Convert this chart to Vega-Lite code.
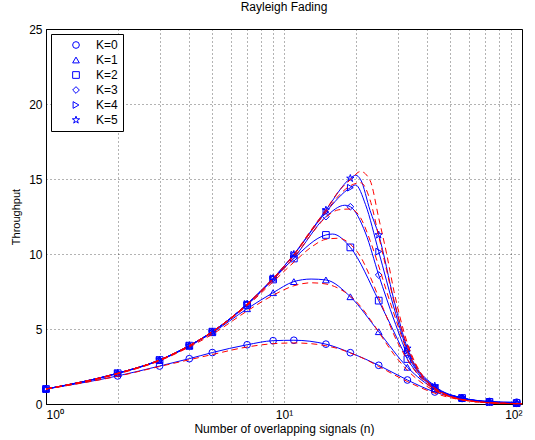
{
  "$schema": "https://vega.github.io/schema/vega-lite/v6.json",
  "autosize": {"type": "none"},
  "padding": {"left": 46, "top": 29, "right": 13, "bottom": 36},
  "width": 476,
  "height": 375,
  "background": "#ffffff",
  "title": {"text": "Rayleigh Fading", "fontSize": 12, "fontWeight": "normal", "offset": 9},
  "datasets": {
    "sim": [
      {"K":"K=0","n":1,"t":1.0,"m":1},{"K":"K=0","n":2,"t":1.87,"m":1},{"K":"K=0","n":3,"t":2.53,"m":1},{"K":"K=0","n":4,"t":3.02,"m":1},{"K":"K=0","n":5,"t":3.43,"m":1},{"K":"K=0","n":7,"t":3.95,"m":1},{"K":"K=0","n":9,"t":4.22,"m":1},{"K":"K=0","n":11,"t":4.25,"m":1},{"K":"K=0","n":15,"t":3.99,"m":1},{"K":"K=0","n":19,"t":3.42,"m":1},{"K":"K=0","n":25,"t":2.58,"m":1},{"K":"K=0","n":33,"t":1.6,"m":1},{"K":"K=0","n":43,"t":0.8,"m":1},{"K":"K=0","n":56,"t":0.37,"m":1},{"K":"K=0","n":73,"t":0.17,"m":1},{"K":"K=0","n":95,"t":0.12,"m":1},
      {"K":"K=1","n":1,"t":1.0,"m":1},{"K":"K=1","n":2,"t":2.03,"m":1},{"K":"K=1","n":3,"t":2.9,"m":1},{"K":"K=1","n":4,"t":3.85,"m":1},{"K":"K=1","n":5,"t":4.75,"m":1},{"K":"K=1","n":7,"t":6.35,"m":1},{"K":"K=1","n":9,"t":7.42,"m":1},{"K":"K=1","n":11,"t":8.16,"m":1},{"K":"K=1","n":13,"t":8.33,"m":0},{"K":"K=1","n":15,"t":8.27,"m":1},{"K":"K=1","n":19,"t":7.15,"m":1},{"K":"K=1","n":25,"t":4.82,"m":1},{"K":"K=1","n":33,"t":2.45,"m":1},{"K":"K=1","n":43,"t":1.0,"m":1},{"K":"K=1","n":56,"t":0.4,"m":1},{"K":"K=1","n":73,"t":0.15,"m":1},{"K":"K=1","n":95,"t":0.06,"m":1},
      {"K":"K=2","n":1,"t":1.0,"m":1},{"K":"K=2","n":2,"t":2.05,"m":1},{"K":"K=2","n":3,"t":2.93,"m":1},{"K":"K=2","n":4,"t":3.89,"m":1},{"K":"K=2","n":5,"t":4.82,"m":1},{"K":"K=2","n":7,"t":6.6,"m":1},{"K":"K=2","n":9,"t":8.3,"m":1},{"K":"K=2","n":11,"t":9.7,"m":1},{"K":"K=2","n":15,"t":11.27,"m":1},{"K":"K=2","n":16,"t":11.33,"m":0},{"K":"K=2","n":19,"t":10.44,"m":1},{"K":"K=2","n":25,"t":6.89,"m":1},{"K":"K=2","n":29,"t":4.8,"m":0},{"K":"K=2","n":33,"t":3.0,"m":1},{"K":"K=2","n":43,"t":1.05,"m":1},{"K":"K=2","n":56,"t":0.4,"m":1},{"K":"K=2","n":73,"t":0.14,"m":1},{"K":"K=2","n":95,"t":0.06,"m":1},
      {"K":"K=3","n":1,"t":1.0,"m":1},{"K":"K=3","n":2,"t":2.05,"m":1},{"K":"K=3","n":3,"t":2.93,"m":1},{"K":"K=3","n":4,"t":3.89,"m":1},{"K":"K=3","n":5,"t":4.82,"m":1},{"K":"K=3","n":7,"t":6.65,"m":1},{"K":"K=3","n":9,"t":8.35,"m":1},{"K":"K=3","n":11,"t":9.75,"m":1},{"K":"K=3","n":15,"t":12.49,"m":1},{"K":"K=3","n":18,"t":13.25,"m":0},{"K":"K=3","n":19,"t":13.15,"m":1},{"K":"K=3","n":22,"t":11.4,"m":0},{"K":"K=3","n":25,"t":8.6,"m":1},{"K":"K=3","n":29,"t":5.6,"m":0},{"K":"K=3","n":33,"t":3.3,"m":1},{"K":"K=3","n":43,"t":1.1,"m":1},{"K":"K=3","n":56,"t":0.4,"m":1},{"K":"K=3","n":73,"t":0.13,"m":1},{"K":"K=3","n":95,"t":0.05,"m":1},
      {"K":"K=4","n":1,"t":1.0,"m":1},{"K":"K=4","n":2,"t":2.05,"m":1},{"K":"K=4","n":3,"t":2.93,"m":1},{"K":"K=4","n":4,"t":3.89,"m":1},{"K":"K=4","n":5,"t":4.82,"m":1},{"K":"K=4","n":7,"t":6.67,"m":1},{"K":"K=4","n":9,"t":8.38,"m":1},{"K":"K=4","n":11,"t":9.95,"m":1},{"K":"K=4","n":15,"t":12.8,"m":1},{"K":"K=4","n":19,"t":14.42,"m":1},{"K":"K=4","n":20,"t":14.6,"m":0},{"K":"K=4","n":22,"t":13.3,"m":0},{"K":"K=4","n":25,"t":10.16,"m":1},{"K":"K=4","n":29,"t":6.4,"m":0},{"K":"K=4","n":33,"t":3.55,"m":1},{"K":"K=4","n":43,"t":1.15,"m":1},{"K":"K=4","n":56,"t":0.4,"m":1},{"K":"K=4","n":73,"t":0.12,"m":1},{"K":"K=4","n":95,"t":0.05,"m":1},
      {"K":"K=5","n":1,"t":1.0,"m":1},{"K":"K=5","n":2,"t":2.05,"m":1},{"K":"K=5","n":3,"t":2.93,"m":1},{"K":"K=5","n":4,"t":3.89,"m":1},{"K":"K=5","n":5,"t":4.82,"m":1},{"K":"K=5","n":7,"t":6.67,"m":1},{"K":"K=5","n":9,"t":8.38,"m":1},{"K":"K=5","n":11,"t":9.98,"m":1},{"K":"K=5","n":15,"t":12.93,"m":1},{"K":"K=5","n":19,"t":15.04,"m":1},{"K":"K=5","n":20,"t":15.25,"m":0},{"K":"K=5","n":21,"t":14.95,"m":0},{"K":"K=5","n":23,"t":12.9,"m":0},{"K":"K=5","n":25,"t":11.27,"m":1},{"K":"K=5","n":29,"t":6.9,"m":0},{"K":"K=5","n":33,"t":3.71,"m":1},{"K":"K=5","n":43,"t":1.2,"m":1},{"K":"K=5","n":56,"t":0.4,"m":1},{"K":"K=5","n":73,"t":0.12,"m":1},{"K":"K=5","n":95,"t":0.05,"m":1}
    ],
    "theory": [
      {"K":"K=0","n":1,"t":1.0},{"K":"K=0","n":2,"t":1.85},{"K":"K=0","n":3,"t":2.5},{"K":"K=0","n":4,"t":2.95},{"K":"K=0","n":5,"t":3.3},{"K":"K=0","n":7,"t":3.8},{"K":"K=0","n":9,"t":4.02},{"K":"K=0","n":11,"t":4.07},{"K":"K=0","n":13,"t":4.02},{"K":"K=0","n":15,"t":3.88},{"K":"K=0","n":17,"t":3.68},{"K":"K=0","n":19,"t":3.4},{"K":"K=0","n":21,"t":3.12},{"K":"K=0","n":23,"t":2.82},{"K":"K=0","n":25,"t":2.5},{"K":"K=0","n":27,"t":2.22},{"K":"K=0","n":29,"t":1.95},{"K":"K=0","n":33,"t":1.5},{"K":"K=0","n":38,"t":1.05},{"K":"K=0","n":43,"t":0.72},{"K":"K=0","n":50,"t":0.42},{"K":"K=0","n":56,"t":0.27},{"K":"K=0","n":65,"t":0.14},{"K":"K=0","n":73,"t":0.09},{"K":"K=0","n":85,"t":0.05},{"K":"K=0","n":100,"t":0.02},
      {"K":"K=1","n":1,"t":1.0},{"K":"K=1","n":2,"t":2.0},{"K":"K=1","n":3,"t":2.88},{"K":"K=1","n":4,"t":3.8},{"K":"K=1","n":5,"t":4.65},{"K":"K=1","n":7,"t":6.2},{"K":"K=1","n":9,"t":7.25},{"K":"K=1","n":11,"t":7.88},{"K":"K=1","n":13,"t":8.08},{"K":"K=1","n":15,"t":8.0},{"K":"K=1","n":17,"t":7.7},{"K":"K=1","n":19,"t":7.2},{"K":"K=1","n":21,"t":6.5},{"K":"K=1","n":23,"t":5.65},{"K":"K=1","n":25,"t":4.8},{"K":"K=1","n":27,"t":4.0},{"K":"K=1","n":29,"t":3.3},{"K":"K=1","n":33,"t":2.25},{"K":"K=1","n":38,"t":1.4},{"K":"K=1","n":43,"t":0.88},{"K":"K=1","n":50,"t":0.47},{"K":"K=1","n":56,"t":0.28},{"K":"K=1","n":65,"t":0.14},{"K":"K=1","n":73,"t":0.08},{"K":"K=1","n":85,"t":0.04},{"K":"K=1","n":100,"t":0.02},
      {"K":"K=2","n":1,"t":1.0},{"K":"K=2","n":2,"t":2.03},{"K":"K=2","n":3,"t":2.92},{"K":"K=2","n":4,"t":3.87},{"K":"K=2","n":5,"t":4.8},{"K":"K=2","n":7,"t":6.55},{"K":"K=2","n":9,"t":8.15},{"K":"K=2","n":11,"t":9.45},{"K":"K=2","n":13,"t":10.45},{"K":"K=2","n":15,"t":10.98},{"K":"K=2","n":17,"t":11.05},{"K":"K=2","n":19,"t":10.65},{"K":"K=2","n":21,"t":9.8},{"K":"K=2","n":23,"t":8.5},{"K":"K=2","n":25,"t":7.1},{"K":"K=2","n":27,"t":5.8},{"K":"K=2","n":29,"t":4.6},{"K":"K=2","n":33,"t":2.95},{"K":"K=2","n":38,"t":1.65},{"K":"K=2","n":43,"t":0.95},{"K":"K=2","n":50,"t":0.48},{"K":"K=2","n":56,"t":0.28},{"K":"K=2","n":65,"t":0.14},{"K":"K=2","n":73,"t":0.08},{"K":"K=2","n":85,"t":0.04},{"K":"K=2","n":100,"t":0.02},
      {"K":"K=3","n":1,"t":1.0},{"K":"K=3","n":2,"t":2.04},{"K":"K=3","n":3,"t":2.93},{"K":"K=3","n":4,"t":3.89},{"K":"K=3","n":5,"t":4.82},{"K":"K=3","n":7,"t":6.62},{"K":"K=3","n":9,"t":8.3},{"K":"K=3","n":11,"t":9.75},{"K":"K=3","n":13,"t":11.3},{"K":"K=3","n":15,"t":12.45},{"K":"K=3","n":17,"t":12.95},{"K":"K=3","n":19,"t":13.0},{"K":"K=3","n":21,"t":12.4},{"K":"K=3","n":23,"t":10.9},{"K":"K=3","n":25,"t":9.2},{"K":"K=3","n":27,"t":7.5},{"K":"K=3","n":29,"t":6.0},{"K":"K=3","n":33,"t":3.5},{"K":"K=3","n":38,"t":1.8},{"K":"K=3","n":43,"t":1.0},{"K":"K=3","n":50,"t":0.5},{"K":"K=3","n":56,"t":0.29},{"K":"K=3","n":65,"t":0.14},{"K":"K=3","n":73,"t":0.08},{"K":"K=3","n":85,"t":0.04},{"K":"K=3","n":100,"t":0.02},
      {"K":"K=4","n":1,"t":1.0},{"K":"K=4","n":2,"t":2.05},{"K":"K=4","n":3,"t":2.93},{"K":"K=4","n":4,"t":3.89},{"K":"K=4","n":5,"t":4.82},{"K":"K=4","n":7,"t":6.66},{"K":"K=4","n":9,"t":8.36},{"K":"K=4","n":11,"t":9.92},{"K":"K=4","n":13,"t":11.5},{"K":"K=4","n":15,"t":12.8},{"K":"K=4","n":17,"t":13.9},{"K":"K=4","n":19,"t":14.55},{"K":"K=4","n":21,"t":14.75},{"K":"K=4","n":23,"t":13.6},{"K":"K=4","n":25,"t":11.2},{"K":"K=4","n":27,"t":8.9},{"K":"K=4","n":29,"t":6.8},{"K":"K=4","n":33,"t":3.85},{"K":"K=4","n":38,"t":1.9},{"K":"K=4","n":43,"t":1.05},{"K":"K=4","n":50,"t":0.5},{"K":"K=4","n":56,"t":0.3},{"K":"K=4","n":65,"t":0.14},{"K":"K=4","n":73,"t":0.08},{"K":"K=4","n":85,"t":0.04},{"K":"K=4","n":100,"t":0.02},
      {"K":"K=5","n":1,"t":1.0},{"K":"K=5","n":2,"t":2.05},{"K":"K=5","n":3,"t":2.93},{"K":"K=5","n":4,"t":3.89},{"K":"K=5","n":5,"t":4.82},{"K":"K=5","n":7,"t":6.67},{"K":"K=5","n":9,"t":8.38},{"K":"K=5","n":11,"t":9.97},{"K":"K=5","n":13,"t":11.6},{"K":"K=5","n":15,"t":12.95},{"K":"K=5","n":17,"t":14.2},{"K":"K=5","n":19,"t":14.95},{"K":"K=5","n":21,"t":15.5},{"K":"K=5","n":23,"t":14.9},{"K":"K=5","n":25,"t":12.4},{"K":"K=5","n":27,"t":10.0},{"K":"K=5","n":29,"t":7.5},{"K":"K=5","n":33,"t":4.05},{"K":"K=5","n":38,"t":1.95},{"K":"K=5","n":43,"t":1.08},{"K":"K=5","n":50,"t":0.52},{"K":"K=5","n":56,"t":0.3},{"K":"K=5","n":65,"t":0.15},{"K":"K=5","n":73,"t":0.08},{"K":"K=5","n":85,"t":0.04},{"K":"K=5","n":100,"t":0.02}
    ]
  },
  "encoding": {
    "x": {
      "field": "n", "type": "quantitative",
      "scale": {"type": "log", "domain": [1, 100], "nice": false},
      "axis": {
        "title": "Number of overlapping signals (n)",
        "values": [1,2,3,4,5,6,7,8,9,10,20,30,40,50,60,70,80,90,100],
        "labelExpr": "datum.value == 1 ? '10⁰' : datum.value == 10 ? '10¹' : datum.value == 100 ? '10²' : ''",
        "labelPadding": 5,
        "titlePadding": 3
      }
    },
    "y": {
      "field": "t", "type": "quantitative",
      "scale": {"domain": [0, 25], "nice": false},
      "axis": {"title": "Throughput", "values": [0, 5, 10, 15, 20, 25], "labelPadding": 4, "titlePadding": 7, "titleFontSize": 11}
    }
  },
  "layer": [
    {"data": {"name": "sim"}, "transform": [{"filter": "datum.K == 'K=0'"}], "mark": {"type": "line", "interpolate": "monotone", "color": "#0000ff", "strokeWidth": 1}, "encoding": {}},
    {"data": {"name": "sim"}, "transform": [{"filter": "datum.K == 'K=1'"}], "mark": {"type": "line", "interpolate": "monotone", "color": "#0000ff", "strokeWidth": 1}, "encoding": {}},
    {"data": {"name": "sim"}, "transform": [{"filter": "datum.K == 'K=2'"}], "mark": {"type": "line", "interpolate": "monotone", "color": "#0000ff", "strokeWidth": 1}, "encoding": {}},
    {"data": {"name": "sim"}, "transform": [{"filter": "datum.K == 'K=3'"}], "mark": {"type": "line", "interpolate": "monotone", "color": "#0000ff", "strokeWidth": 1}, "encoding": {}},
    {"data": {"name": "sim"}, "transform": [{"filter": "datum.K == 'K=4'"}], "mark": {"type": "line", "interpolate": "monotone", "color": "#0000ff", "strokeWidth": 1}, "encoding": {}},
    {"data": {"name": "sim"}, "transform": [{"filter": "datum.K == 'K=5'"}], "mark": {"type": "line", "interpolate": "monotone", "color": "#0000ff", "strokeWidth": 1}, "encoding": {}},
    {
      "data": {"name": "sim"},
      "transform": [{"filter": "datum.m == 1"}],
      "mark": {"type": "point", "filled": false, "color": "#0000ff", "strokeWidth": 1, "size": 45, "opacity": 1},
      "encoding": {
        "shape": {
          "field": "K", "type": "nominal",
          "scale": {
            "domain": ["K=0","K=1","K=2","K=3","K=4","K=5"],
            "range": ["circle","triangle-up","square","diamond","triangle-right","M0,-1.15L0.26,-0.36L1.09,-0.36L0.42,0.14L0.68,0.93L0,0.44L-0.68,0.93L-0.42,0.14L-1.09,-0.36L-0.26,-0.36Z"]
          },
          "legend": {"title": null, "orient": "top-left", "offset": 5, "strokeColor": "#000", "fillColor": "#fff", "padding": 5, "labelFontSize": 12, "rowPadding": 3, "symbolOffset": 14, "labelOffset": 14, "symbolSize": 45, "symbolStrokeColor": "#0000ff", "symbolStrokeWidth": 1}
        }
      }
    },
    {"data": {"name": "theory"}, "transform": [{"filter": "datum.K == 'K=0'"}], "mark": {"type": "line", "interpolate": "monotone", "color": "#ff0000", "strokeWidth": 1, "strokeDash": [6, 4]}, "encoding": {}},
    {"data": {"name": "theory"}, "transform": [{"filter": "datum.K == 'K=1'"}], "mark": {"type": "line", "interpolate": "monotone", "color": "#ff0000", "strokeWidth": 1, "strokeDash": [6, 4]}, "encoding": {}},
    {"data": {"name": "theory"}, "transform": [{"filter": "datum.K == 'K=2'"}], "mark": {"type": "line", "interpolate": "monotone", "color": "#ff0000", "strokeWidth": 1, "strokeDash": [6, 4]}, "encoding": {}},
    {"data": {"name": "theory"}, "transform": [{"filter": "datum.K == 'K=3'"}], "mark": {"type": "line", "interpolate": "monotone", "color": "#ff0000", "strokeWidth": 1, "strokeDash": [6, 4]}, "encoding": {}},
    {"data": {"name": "theory"}, "transform": [{"filter": "datum.K == 'K=4'"}], "mark": {"type": "line", "interpolate": "monotone", "color": "#ff0000", "strokeWidth": 1, "strokeDash": [6, 4]}, "encoding": {}},
    {"data": {"name": "theory"}, "transform": [{"filter": "datum.K == 'K=5'"}], "mark": {"type": "line", "interpolate": "monotone", "color": "#ff0000", "strokeWidth": 1, "strokeDash": [6, 4]}, "encoding": {}}
  ],
  "config": {
    "font": "Liberation Sans",
    "view": {"stroke": "#000", "strokeWidth": 1},
    "axis": {
      "grid": true, "gridDash": [1, 3], "gridColor": "#000", "gridOpacity": 0.6,
      "ticks": false, "domainColor": "#000",
      "labelFontSize": 12, "labelColor": "#000",
      "titleFontSize": 12, "titleFontWeight": "normal", "titleColor": "#000"
    },
    "legend": {"labelColor": "#000"}
  }
}
